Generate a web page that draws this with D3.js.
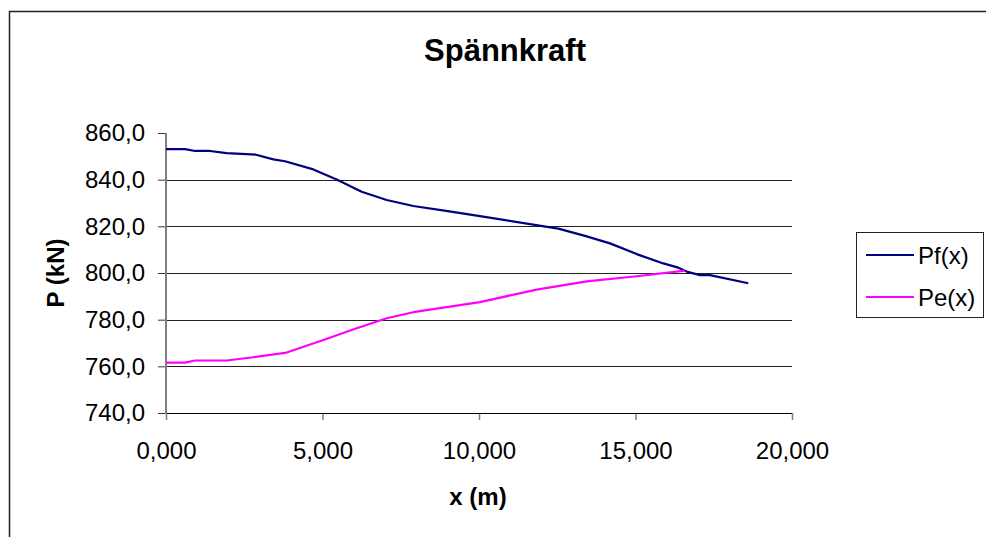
<!DOCTYPE html>
<html>
<head>
<meta charset="utf-8">
<script src="https://cdn.jsdelivr.net/npm/d3@7"></script>
<style>
  html, body { margin: 0; padding: 0; background: #fff; }
  svg { display: block; font-family: "Liberation Sans", Arial, sans-serif; }
</style>
</head>
<body>
<svg id="chart" width="986" height="537"></svg>
<script>
// Prestressing force along the tendon: Pf(x) and Pe(x)
const xPf = [0, 0.607, 0.927, 1.406, 1.939, 2.875, 3.430, 3.802, 4.707, 5.453, 6.251, 7.050, 7.901, 9.000, 10.032, 12.534, 13.387, 14.185, 15.038, 15.889, 16.368, 16.636, 17.061, 17.380, 18.604];
const valPf = [853.1, 853.1, 852.3, 852.3, 851.4, 850.7, 848.7, 847.9, 844.4, 840.1, 834.8, 831.3, 828.7, 826.5, 824.4, 819.0, 815.9, 812.7, 808.1, 804.1, 802.3, 800.6, 799.1, 799.1, 795.6];

const xPe = [0, 0.607, 0.927, 1.939, 2.790, 3.856, 5.026, 6.092, 7.050, 7.901, 10.032, 11.843, 13.440, 15.038, 16.581];
const valPe = [761.6, 761.6, 762.5, 762.5, 763.9, 765.9, 771.3, 776.3, 780.6, 783.2, 787.5, 792.9, 796.4, 798.6, 801.0];

const seriesNames = ["Pf(x)", "Pe(x)"];
const seriesColors = ["#000080", "#FF00FF"];
const yTicks = [740, 760, 780, 800, 820, 840, 860];
const xTicks = [0, 5, 10, 15, 20];
const titleText = "Spännkraft";
const xTitle = "x (m)";
const yTitle = "P (kN)";

const svg = d3.select("#chart");
const locale = d3.formatLocale({ decimal: ",", thousands: " ", grouping: [3], currency: ["", ""] });

const plot = { left: 166, right: 792, top: 133, bottom: 413 };
const x = d3.scaleLinear().domain([0, 20]).range([plot.left, plot.right]);
const y = d3.scaleLinear().domain([740, 860]).range([plot.bottom, plot.top]);

// chart frame
svg.append("rect")
  .attr("x", 9.5).attr("y", 11.5)
  .attr("width", 1000).attr("height", 600)
  .attr("fill", "none").attr("stroke", "#222").attr("stroke-width", 1.5);

// title
svg.append("text")
  .attr("x", 505).attr("y", 61)
  .attr("text-anchor", "middle")
  .attr("font-size", 31).attr("font-weight", "bold")
  .text(titleText);

// horizontal gridlines
svg.append("g").selectAll("line")
  .data(yTicks.filter(t => t !== 740 && t !== 860))
  .join("line")
  .attr("x1", plot.left).attr("x2", plot.right)
  .attr("y1", d => Math.round(y(d)) + 0.5).attr("y2", d => Math.round(y(d)) + 0.5)
  .attr("stroke", "#222").attr("stroke-width", 1);

// y axis
const yAxis = svg.append("g")
  .attr("transform", `translate(${plot.left},0)`)
  .call(d3.axisLeft(y).tickValues(yTicks).tickSize(8).tickPadding(13).tickFormat(locale.format(".1f")));
yAxis.select(".domain").remove();
yAxis.selectAll(".tick line").attr("stroke", "#333");
yAxis.selectAll(".tick text").attr("font-size", 24).attr("fill", "#000")
  .attr("font-family", "Liberation Sans, Arial, sans-serif");

// x axis
const xAxis = svg.append("g")
  .attr("transform", `translate(0,${plot.bottom})`)
  .call(d3.axisBottom(x).tickValues(xTicks).tickSize(7).tickPadding(22).tickFormat(locale.format(".3f")));
xAxis.select(".domain").remove();
xAxis.selectAll(".tick line").attr("stroke", "#808080").attr("stroke-width", 1.5);
xAxis.selectAll(".tick text").attr("font-size", 24).attr("fill", "#000")
  .attr("font-family", "Liberation Sans, Arial, sans-serif");

svg.append("line")
  .attr("x1", plot.left).attr("x2", plot.right)
  .attr("y1", plot.bottom + 0.5).attr("y2", plot.bottom + 0.5)
  .attr("stroke", "#000").attr("stroke-width", 1.2);
svg.append("line")
  .attr("x1", plot.left).attr("x2", plot.left)
  .attr("y1", plot.top).attr("y2", plot.bottom + 1)
  .attr("stroke", "#808080").attr("stroke-width", 2);

// axis titles
svg.append("text")
  .attr("x", 478).attr("y", 505)
  .attr("text-anchor", "middle")
  .attr("font-size", 24).attr("font-weight", "bold")
  .text(xTitle);
svg.append("text")
  .attr("transform", "translate(64,273) rotate(-90)")
  .attr("text-anchor", "middle")
  .attr("font-size", 24).attr("font-weight", "bold")
  .text(yTitle);

// series lines
const line = d3.line().x(d => x(d[0])).y(d => y(d[1]));
const series = [d3.zip(xPf, valPf), d3.zip(xPe, valPe)];
svg.append("g").selectAll("path")
  .data(series)
  .join("path")
  .attr("d", line)
  .attr("fill", "none")
  .attr("stroke", (d, i) => seriesColors[i])
  .attr("stroke-width", 2.2)
  .attr("stroke-linejoin", "round");

// legend
const legend = svg.append("g");
legend.append("rect")
  .attr("x", 856.5).attr("y", 232.5).attr("width", 127).attr("height", 85)
  .attr("fill", "#fff").attr("stroke", "#222").attr("stroke-width", 1);
const items = legend.selectAll("g.item")
  .data(seriesNames)
  .join("g")
  .attr("class", "item")
  .attr("transform", (d, i) => `translate(0,${255 + i * 42})`);
items.append("line")
  .attr("x1", 866).attr("x2", 914).attr("y1", 0).attr("y2", 0)
  .attr("stroke", (d, i) => seriesColors[i]).attr("stroke-width", 2);
items.append("text")
  .attr("x", 918).attr("y", 9)
  .attr("font-size", 24)
  .text(d => d);
</script>
</body>
</html>
